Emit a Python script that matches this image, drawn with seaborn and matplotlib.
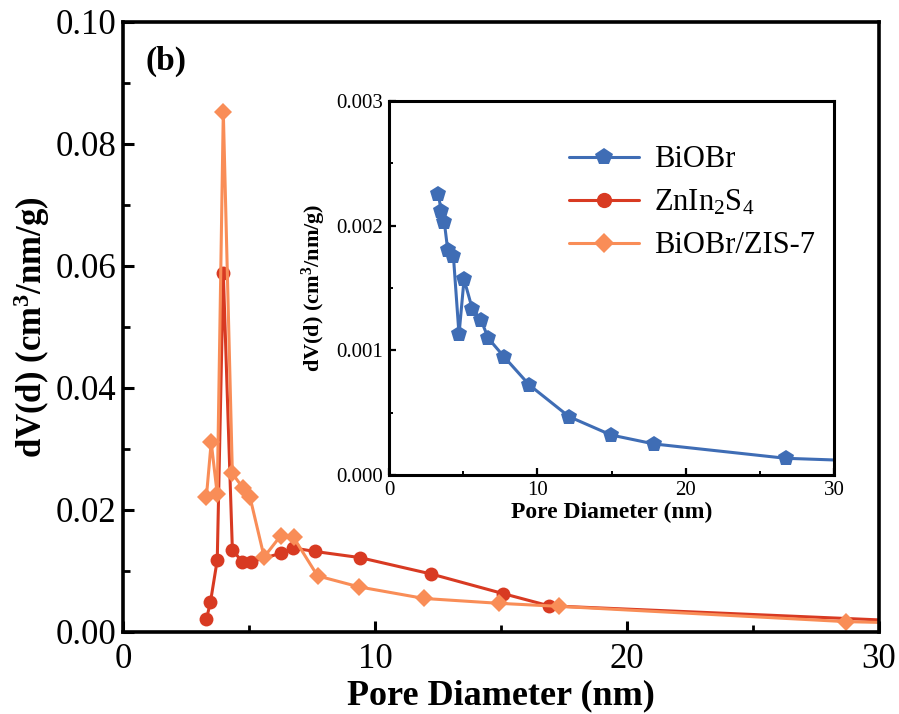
import matplotlib
matplotlib.use("Agg")
import matplotlib.pyplot as plt
from matplotlib.lines import Line2D
from matplotlib.ticker import MultipleLocator, FormatStrFormatter
import numpy as np
import pandas as pd
import seaborn as sns

# Pore size distributions (BJH), pore diameter in nm, dV(d) in cm3/nm/g
zis_d = [3.31, 3.47, 3.74, 3.98, 4.34, 4.73, 5.07, 6.26, 6.73, 7.62, 9.40, 12.24, 15.08, 16.9, 35.0]
zis_v = [0.0021, 0.0049, 0.0118, 0.0589, 0.0135, 0.0115, 0.0115, 0.0129, 0.0138, 0.0132, 0.0122, 0.0095, 0.0063, 0.0043, 0.0011]

comp_d = [3.31, 3.50, 3.74, 3.98, 4.34, 4.76, 5.04, 5.60, 6.26, 6.77, 7.72, 9.36, 11.94, 14.92, 17.32, 28.68, 35.0]
comp_v = [0.0222, 0.0311, 0.0226, 0.0853, 0.0260, 0.0236, 0.0221, 0.0123, 0.0158, 0.0155, 0.0092, 0.0074, 0.0055, 0.0047, 0.0042, 0.0017, 0.0011]

biobr_d = [3.33, 3.51, 3.73, 3.96, 4.34, 4.72, 5.06, 5.62, 6.20, 6.70, 7.75, 9.46, 12.14, 14.97, 17.87, 26.75, 35.0]
biobr_v = [0.002254, 0.00212, 0.002027, 0.001805, 0.001759, 0.001128, 0.00157, 0.001331, 0.001243, 0.001096,
           0.000949, 0.000722, 0.000468, 0.000321, 0.000249, 0.000134, 0.0001]

series_names = ["BiOBr", r"ZnIn$_{2}$S$_{4}$", "BiOBr/ZIS-7"]
c_blue, c_red, c_orange = "#3F6DB5", "#D83A22", "#F98D57"

sns.set_style("ticks")
plt.rcParams["font.family"] = ["Liberation Serif", "DejaVu Serif"]
plt.rcParams["mathtext.fontset"] = "custom"
plt.rcParams["mathtext.rm"] = "Liberation Serif"
plt.rcParams["mathtext.it"] = "Liberation Serif:italic"
plt.rcParams["mathtext.bf"] = "Liberation Serif:bold"
for key in ["text.color", "axes.labelcolor", "xtick.color", "ytick.color", "axes.edgecolor"]:
    plt.rcParams[key] = "black"

fig = plt.figure(figsize=(8.99, 7.14), dpi=100)
W, H = 899, 714
ax = fig.add_axes([123 / W, 1 - 632 / H, (879 - 123) / W, (632 - 22) / H])

zis = pd.DataFrame({"d": zis_d, "v": zis_v})
comp = pd.DataFrame({"d": comp_d, "v": comp_v})
bio = pd.DataFrame({"d": biobr_d, "v": biobr_v})

sns.lineplot(data=zis, x="d", y="v", ax=ax, sort=False, estimator=None, color=c_red,
             lw=2.2, marker="o", markersize=10, markeredgewidth=0, clip_on=True)
sns.lineplot(data=comp, x="d", y="v", ax=ax, sort=False, estimator=None, color=c_orange,
             lw=2.2, marker="D", markersize=9, markeredgewidth=0, clip_on=True)

ax.set_xlim(0, 30)
ax.set_ylim(0, 0.10)
ax.xaxis.set_major_locator(MultipleLocator(10))
ax.xaxis.set_minor_locator(MultipleLocator(5))
ax.yaxis.set_major_locator(MultipleLocator(0.02))
ax.yaxis.set_minor_locator(MultipleLocator(0.01))
ax.yaxis.set_major_formatter(FormatStrFormatter("%.2f"))
ax.tick_params(axis="both", which="major", direction="in", length=8, width=2.2,
               labelsize=25, top=False, right=False, colors="black")
ax.tick_params(axis="both", which="minor", direction="in", length=5, width=2.0,
               top=False, right=False, colors="black")
ax.tick_params(axis="x", which="major", pad=8)
ax.tick_params(axis="y", which="major", pad=5)
for s in ax.spines.values():
    s.set_linewidth(2.6)
    s.set_color("black")
ax.set_xlabel("Pore Diameter (nm)", fontsize=26, fontweight="bold", labelpad=2)
ax.set_ylabel(r"dV(d) (cm$^{\mathbf{3}}$/nm/g)", fontsize=25, fontweight="bold", labelpad=2)
ax.text(0.03, 0.935, "(b)", transform=ax.transAxes, fontsize=24, fontweight="bold",
        ha="left", va="center")

# Inset: BiOBr alone
axi = fig.add_axes([389 / W, 1 - 475 / H, (834 - 389) / W, (475 - 101) / H])
sns.lineplot(data=bio, x="d", y="v", ax=axi, sort=False, estimator=None, color=c_blue,
             lw=2.2, marker="p", markersize=12, markeredgewidth=0)
axi.set_xlim(0, 30)
axi.set_ylim(0, 0.003)
axi.xaxis.set_major_locator(MultipleLocator(10))
axi.xaxis.set_minor_locator(MultipleLocator(5))
axi.yaxis.set_major_locator(MultipleLocator(0.001))
axi.yaxis.set_minor_locator(MultipleLocator(0.0005))
axi.yaxis.set_major_formatter(FormatStrFormatter("%.3f"))
axi.tick_params(axis="both", which="major", direction="in", length=5, width=1.6,
                labelsize=15, top=False, right=False, pad=4, colors="black")
axi.tick_params(axis="both", which="minor", direction="in", length=3, width=1.4,
                top=False, right=False, colors="black")
for s in axi.spines.values():
    s.set_linewidth(2.2)
    s.set_color("black")
axi.set_xlabel("Pore Diameter (nm)", fontsize=17, fontweight="bold", labelpad=2)
axi.set_ylabel(r"dV(d) (cm$^{\mathbf{3}}$/nm/g)", fontsize=16, fontweight="bold", labelpad=6)

handles = [
    Line2D([], [], color=c_blue, lw=2.2, marker="p", markersize=13, markeredgewidth=0),
    Line2D([], [], color=c_red, lw=2.2, marker="o", markersize=11, markeredgewidth=0),
    Line2D([], [], color=c_orange, lw=2.2, marker="D", markersize=10, markeredgewidth=0),
]
axi.legend(handles, series_names, loc="upper right", bbox_to_anchor=(1.02, 0.955),
           frameon=False, fontsize=22, handlelength=2.3, labelspacing=0.45, handletextpad=0.5)

fig.savefig("out.png", dpi=100)
